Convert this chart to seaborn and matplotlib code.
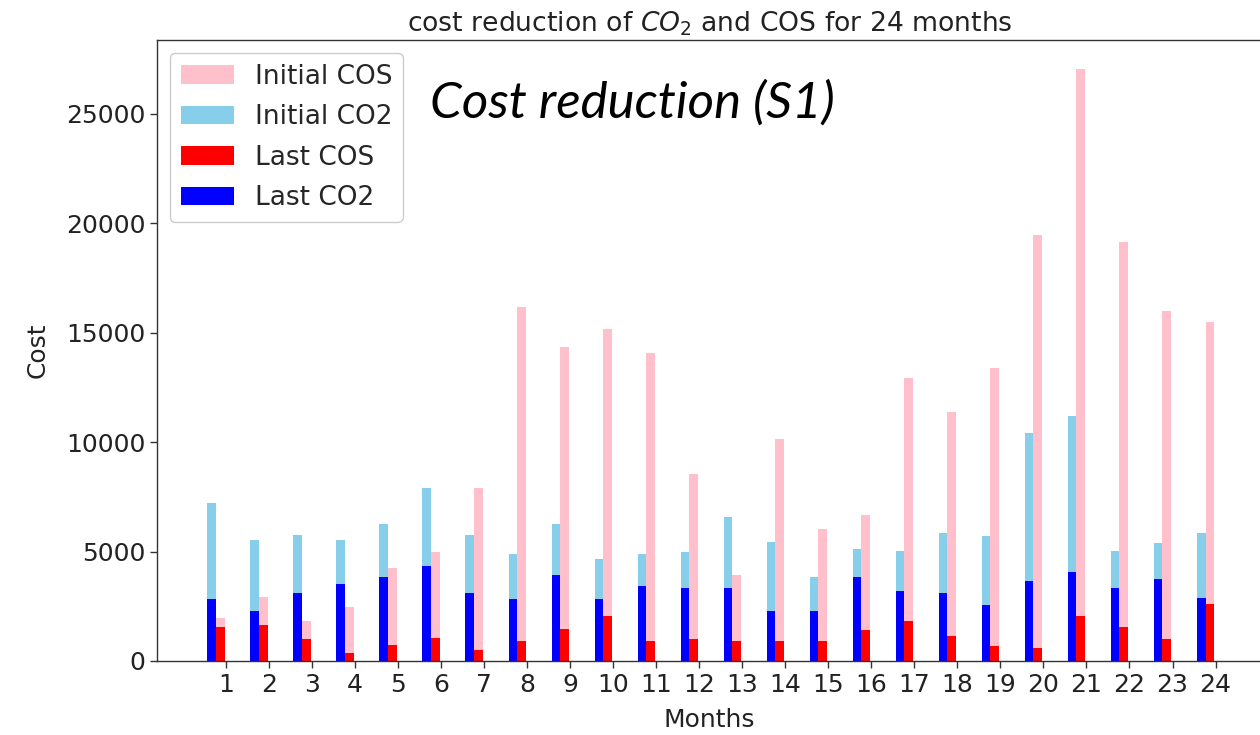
import numpy as np
import pandas as pd
import matplotlib
matplotlib.use("Agg")
import matplotlib.pyplot as plt
import seaborn as sns

# Monthly costs
months = list(range(1, 25))
initial_co2 = [7235, 5530, 5773, 5530, 6261, 7891, 5773, 4875, 6261, 4647, 4875, 4966,
               6596, 5453, 3824, 5134, 5042, 5850, 5697, 10405, 11211, 5042, 5377, 5850]
last_co2 = [2848, 2300, 3093, 3519, 3839, 4342, 3093, 2848, 3915, 2848, 3427, 3351,
            3351, 2300, 2300, 3839, 3184, 3108, 2544, 3671, 4083, 3351, 3747, 2863]
initial_cos = [1965, 2940, 1813, 2453, 4235, 4966, 7891, 16165, 14365, 15187, 14062, 8546,
               3915, 10160, 6033, 6673, 12920, 11365, 13405, 19484, 27040, 19164, 15995, 15507]
last_cos = [1554, 1630, 990, 350, 746, 1066, 503, 914, 1477, 2042, 914, 990,
            914, 914, 914, 1401, 1813, 1158, 670, 579, 2042, 1554, 990, 2620]

sns.set_style("ticks")
plt.rcParams["font.family"] = ["DejaVu Sans"]

fig = plt.figure(figsize=(12.6, 7.35), dpi=100)
ax = fig.add_axes([0.1246, 0.1007, 0.877, 0.845])

bar_w = 0.2
co2_shift = -0.333
cos_shift = -0.133
m = np.array(months, dtype=float)

df = pd.DataFrame({
    "co2_pos": m + co2_shift,
    "cos_pos": m + cos_shift,
    "initial_co2": initial_co2,
    "last_co2": last_co2,
    "initial_cos": initial_cos,
    "last_cos": last_cos,
})

layers = [
    ("cos_pos", "initial_cos", "pink", "Initial COS"),
    ("co2_pos", "initial_co2", "skyblue", "Initial CO2"),
    ("cos_pos", "last_cos", "red", "Last COS"),
    ("co2_pos", "last_co2", "blue", "Last CO2"),
]
for xcol, ycol, color, label in layers:
    sns.barplot(data=df, x=xcol, y=ycol, native_scale=True, width=bar_w,
                color=color, saturation=1, errorbar=None, linewidth=0,
                label=label, ax=ax)

ax.set_xlim(-0.603, 25.08)
ax.set_ylim(0, 28380)
ax.set_xticks(months)
ax.set_xticklabels([str(v) for v in months])
ax.set_yticks([0, 5000, 10000, 15000, 20000, 25000])
ax.tick_params(axis="both", labelsize=18, length=5, width=1, color="#333333",
               labelcolor="#222222")
for s in ax.spines.values():
    s.set_color("#333333")
    s.set_linewidth(1.0)

ax.set_xlabel("Months", fontsize=18, color="#222222")
ax.set_ylabel("Cost", fontsize=18, color="#222222")
ax.xaxis.set_label_coords(0.5, -0.075)
ax.yaxis.set_label_coords(-0.097, 0.5)
ax.set_title("cost reduction of $CO_2$ and COS for 24 months", fontsize=19.2,
             color="#222222", x=0.5, pad=6)

ax.legend(loc="upper left", fontsize=19, frameon=True, framealpha=1,
          edgecolor="#cccccc", fancybox=True, borderaxespad=0.5,
          labelspacing=0.55)

fig.text(430 / 1260, 1 - 103 / 735, "Cost reduction (S1)", fontsize=36.7,
         family=["Lato", "DejaVu Sans"], style="italic", va="center", ha="left",
         color="black")

fig.savefig("out.png", dpi=100)
